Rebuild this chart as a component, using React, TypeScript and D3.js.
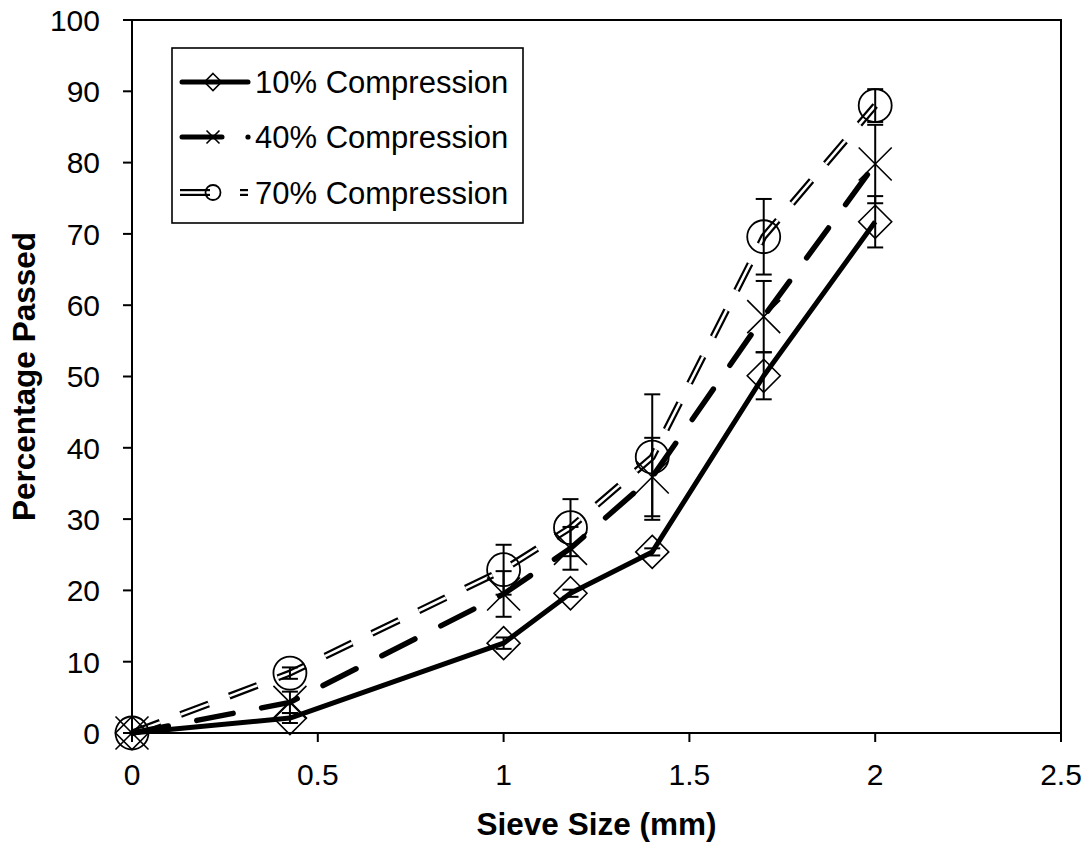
import React from "react";
import * as d3 from "d3";

const sieveSizes = [0, 0.425, 1.0, 1.18, 1.4, 1.7, 2.0];
const seriesNames = ["10% Compression", "40% Compression", "70% Compression"];
const pass10 = [0, 2.1, 12.6, 19.6, 25.4, 50.1, 71.7];
const err10 = [0, 0.7, 0.8, 0.5, 0.5, 3.3, 3.6];
const pass40 = [0, 4.3, 19.5, 25.9, 35.9, 58.4, 79.8];
const err40 = [0, 1.5, 3.2, 3.0, 5.5, 5.0, 5.5];
const pass70 = [0, 8.4, 22.9, 28.8, 38.7, 69.6, 88.0];
const err70 = [0, 0.8, 3.5, 4.0, 8.8, 5.3, 2.3];
const xTicks = [0, 0.5, 1, 1.5, 2, 2.5];
const yTicks = [0, 10, 20, 30, 40, 50, 60, 70, 80, 90, 100];

const W = 1092;
const H = 843;
const L = 132, R = 1061, T = 20, B = 733;
const FONT = "'Liberation Sans', Arial, Helvetica, sans-serif";

export default function App() {
  const x = d3.scaleLinear().domain([0, 2.5]).range([L, R]);
  const y = d3.scaleLinear().domain([0, 100]).range([B, T]);

  const mk = (vals: number[]) => sieveSizes.map((s, i) => [s, vals[i]] as [number, number]);
  const line = d3.line<[number, number]>().x(d => x(d[0])).y(d => y(d[1]));

  const series = [
    { name: seriesNames[0], vals: pass10, errs: err10, kind: "diamond" },
    { name: seriesNames[1], vals: pass40, errs: err40, kind: "x" },
    { name: seriesNames[2], vals: pass70, errs: err70, kind: "circle" },
  ];

  const marker = (kind: string, cx: number, cy: number, s: number, key: string) => {
    if (kind === "diamond") {
      return (
        <path key={key} d={`M${cx},${cy - s}L${cx + s},${cy}L${cx},${cy + s}L${cx - s},${cy}Z`}
          fill="none" stroke="#000" strokeWidth={1.6} />
      );
    }
    if (kind === "x") {
      return (
        <path key={key} d={`M${cx - s},${cy - s}L${cx + s},${cy + s}M${cx - s},${cy + s}L${cx + s},${cy - s}`}
          fill="none" stroke="#000" strokeWidth={1.6} />
      );
    }
    return <circle key={key} cx={cx} cy={cy} r={s} fill="none" stroke="#000" strokeWidth={1.8} />;
  };

  const d10 = line(mk(pass10)) || "";
  const d40 = line(mk(pass40)) || "";
  const d70 = line(mk(pass70)) || "";

  const capW = 8;

  return (
    <svg width={W} height={H} style={{ position: "absolute", left: 0, top: 0, background: "#fff" }}
      fontFamily={FONT}>
      <rect x={0} y={0} width={W} height={H} fill="#fff" />

      {/* lines */}
      <path d={d70} fill="none" stroke="#000" strokeWidth={7} strokeDasharray="30 22" />
      <path d={d70} fill="none" stroke="#fff" strokeWidth={2.6} strokeDasharray="30 22" />
      <path d={d40} fill="none" stroke="#000" strokeWidth={5.5} strokeDasharray="37 29" strokeLinecap="round" />
      <path d={d10} fill="none" stroke="#000" strokeWidth={5} strokeLinejoin="round" />

      {/* error bars */}
      {series.map((s, si) =>
        sieveSizes.map((sz, i) => {
          const e = s.errs[i];
          if (!e) return null;
          const cx = x(sz);
          const y1 = y(s.vals[i] + e);
          const y2 = y(s.vals[i] - e);
          return (
            <g key={`e${si}-${i}`} stroke="#000" strokeWidth={2}>
              <line x1={cx} x2={cx} y1={y1} y2={y2} />
              <line x1={cx - capW} x2={cx + capW} y1={y1} y2={y1} />
              <line x1={cx - capW} x2={cx + capW} y1={y2} y2={y2} />
            </g>
          );
        })
      )}

      {/* markers */}
      {series.map((s, si) =>
        sieveSizes.map((sz, i) => marker(s.kind, x(sz), y(s.vals[i]), 16.5, `m${si}-${i}`))
      )}

      {/* frame */}
      <rect x={L} y={T} width={R - L} height={B - T} fill="none" stroke="#000" strokeWidth={2} />

      {/* y axis ticks */}
      {yTicks.map(t => (
        <g key={`yt${t}`}>
          <line x1={L - 9} x2={L} y1={y(t)} y2={y(t)} stroke="#000" strokeWidth={2} />
          <text x={100} y={y(t)} dy="0.36em" textAnchor="end" fontSize={30} fill="#000">{t}</text>
        </g>
      ))}
      {/* x axis ticks */}
      {xTicks.map(t => (
        <g key={`xt${t}`}>
          <line x1={x(t)} x2={x(t)} y1={B} y2={B + 9} stroke="#000" strokeWidth={2} />
          <text x={x(t)} y={785} textAnchor="middle" fontSize={30} fill="#000">{t}</text>
        </g>
      ))}

      {/* axis titles */}
      <text x={(L + R) / 2} y={835} textAnchor="middle" fontSize={31.5} fontWeight="bold" fill="#000">Sieve Size (mm)</text>
      <text transform={`translate(35,${(T + B) / 2}) rotate(-90)`} textAnchor="middle" fontSize={31.5} fontWeight="bold" fill="#000">Percentage Passed</text>

      {/* legend */}
      <rect x={172} y={48} width={351} height={175} fill="#fff" stroke="#000" strokeWidth={1.6} />
      {/* row 1 */}
      <line x1={182} x2={248} y1={82} y2={82} stroke="#000" strokeWidth={5} strokeLinecap="round" />
      {marker("diamond", 213, 82, 8.5, "lg1")}
      <text x={255} y={93} fontSize={31} fill="#000">{seriesNames[0]}</text>
      {/* row 2 */}
      <line x1={182} x2={222} y1={137} y2={137} stroke="#000" strokeWidth={5} strokeLinecap="round" />
      <circle cx={248} cy={137} r={2.6} fill="#000" />
      {marker("x", 213, 137, 6.5, "lg2")}
      <text x={255} y={148} fontSize={31} fill="#000">{seriesNames[1]}</text>
      {/* row 3 */}
      <line x1={180} x2={210} y1={192.5} y2={192.5} stroke="#000" strokeWidth={7} />
      <line x1={180} x2={210} y1={192.5} y2={192.5} stroke="#fff" strokeWidth={2.6} />
      <line x1={240} x2={248} y1={192.5} y2={192.5} stroke="#000" strokeWidth={7} />
      <line x1={240} x2={248} y1={192.5} y2={192.5} stroke="#fff" strokeWidth={2.6} />
      {marker("circle", 213, 192.5, 7.5, "lg3")}
      <text x={255} y={204} fontSize={31} fill="#000">{seriesNames[2]}</text>
    </svg>
  );
}
